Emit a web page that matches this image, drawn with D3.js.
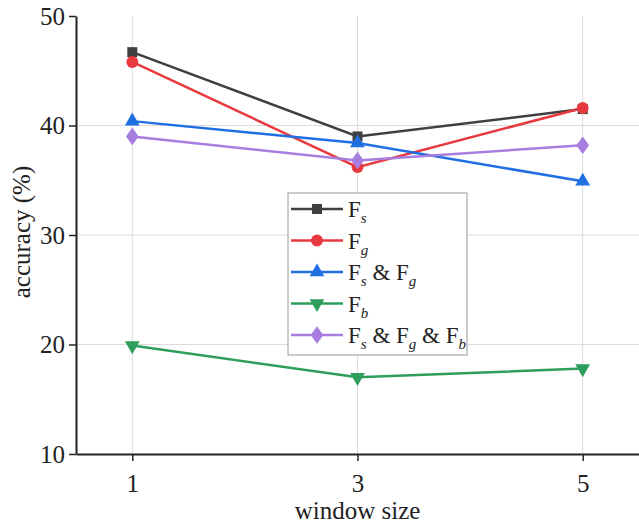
<!DOCTYPE html>
<html>
<head>
<meta charset="utf-8">
<script src="https://cdn.jsdelivr.net/npm/d3@7"></script>
<style>
  body { margin: 0; background: #fff; }
  svg, svg text { font-family: "Liberation Serif", "DejaVu Serif", serif; }
</style>
</head>
<body>
<svg id="chart" width="639" height="526"></svg>
<script>
// window sizes on the x axis
const windows = [1, 3, 5]
const yTicks = [10, 20, 30, 40, 50]

// accuracy (%) per feature set
const fs = [46.7, 39.0, 41.5]
const fg = [45.8, 36.2, 41.6]
const fsfg = [40.4, 38.4, 34.9]
const fb = [19.9, 17.0, 17.8]
const fsfgfb = [39.0, 36.8, 38.2]

const series = [
  { name: [["F", ""], ["s", "sub"]], values: fs, color: "#404040", marker: "square" },
  { name: [["F", ""], ["g", "sub"]], values: fg, color: "#e8393e", marker: "circle" },
  { name: [["F", ""], ["s", "sub"], [" & F", ""], ["g", "sub"]], values: fsfg, color: "#1f6fe3", marker: "triangle" },
  { name: [["F", ""], ["b", "sub"]], values: fb, color: "#2f9e5c", marker: "triangleDown" },
  { name: [["F", ""], ["s", "sub"], [" & F", ""], ["g", "sub"], [" & F", ""], ["b", "sub"]], values: fsfgfb, color: "#a77ee0", marker: "diamond" }
]

const svg = d3.select("#chart")
const plotLeft = 76, plotRight = 639, plotTop = 16, plotBottom = 454

const x = d3.scaleLinear().domain([0.5, 5.5]).range([plotLeft, plotRight])
const y = d3.scaleLinear().domain([10, 50]).range([plotBottom, plotTop])

// grid lines
svg.append("g").selectAll("line").data(windows).join("line")
  .attr("x1", d => x(d)).attr("x2", d => x(d))
  .attr("y1", plotTop).attr("y2", plotBottom)
  .attr("stroke", "#dcdcdc").attr("stroke-width", 1)
svg.append("g").selectAll("line").data(yTicks.slice(1, -1)).join("line")
  .attr("x1", plotLeft).attr("x2", plotRight)
  .attr("y1", d => y(d)).attr("y2", d => y(d))
  .attr("stroke", "#dcdcdc").attr("stroke-width", 1)

// axes
const xAxis = svg.append("g")
  .attr("transform", `translate(0, ${plotBottom})`)
  .call(d3.axisBottom(x).tickValues(windows).tickFormat(d3.format("d"))
    .tickSize(7).tickPadding(13).tickSizeOuter(0))
const yAxis = svg.append("g")
  .attr("transform", `translate(${plotLeft}, 0)`)
  .call(d3.axisLeft(y).tickValues(yTicks).tickFormat(d3.format("d"))
    .tickSize(7).tickPadding(4).tickSizeOuter(0))
for (const ax of [xAxis, yAxis]) {
  ax.attr("font-family", null).attr("font-size", 25)
  ax.select(".domain").attr("stroke", "#222").attr("stroke-width", 2)
  ax.selectAll(".tick line").attr("stroke", "#222").attr("stroke-width", 1.5)
  ax.selectAll(".tick text").attr("fill", "#222")
    .style("font-family", "'Liberation Serif', 'DejaVu Serif', serif")
}

svg.append("text")
  .attr("transform", `translate(30, ${(plotTop + plotBottom) / 2 - 3}) rotate(-90)`)
  .attr("text-anchor", "middle")
  .attr("font-size", 25).attr("fill", "#222")
  .text("accuracy (%)")

svg.append("text")
  .attr("x", x(3)).attr("y", 519)
  .attr("text-anchor", "middle")
  .attr("font-size", 25).attr("fill", "#222")
  .text("window size")

const symbols = {
  square: d3.symbolSquare,
  circle: d3.symbolCircle,
  triangle: d3.symbolTriangle,
  triangleDown: d3.symbolTriangle,
  diamond: d3.symbolDiamond
}
function markerPath(m) {
  const size = m === "square" ? 100 : m === "circle" ? 110 : m === "diamond" ? 90 : 95
  return d3.symbol().type(symbols[m]).size(size)()
}
function markerTransform(m, px, py) {
  if (m === "triangleDown") return `translate(${px}, ${py}) rotate(180)`
  if (m === "diamond") return `translate(${px}, ${py}) scale(1.25, 1)`
  return `translate(${px}, ${py})`
}

const line = d3.line().x((d, i) => x(windows[i])).y(d => y(d))

series.forEach(s => {
  svg.append("path")
    .datum(s.values)
    .attr("d", line)
    .attr("fill", "none")
    .attr("stroke", s.color)
    .attr("stroke-width", 2.5)
  svg.append("g").selectAll("path").data(s.values).join("path")
    .attr("d", markerPath(s.marker))
    .attr("transform", (d, i) => markerTransform(s.marker, x(windows[i]), y(d)))
    .attr("fill", s.color)
})

// legend
const lg = svg.append("g").attr("transform", "translate(288, 193)")
lg.append("rect")
  .attr("width", 179).attr("height", 162)
  .attr("fill", "#fff").attr("stroke", "#999").attr("stroke-width", 1)

series.forEach((s, i) => {
  const ly = 16 + i * 31.5
  lg.append("line")
    .attr("x1", 3).attr("x2", 55).attr("y1", ly).attr("y2", ly)
    .attr("stroke", s.color).attr("stroke-width", 2.5)
  lg.append("path")
    .attr("d", markerPath(s.marker))
    .attr("transform", markerTransform(s.marker, 29, ly))
    .attr("fill", s.color)
  const t = lg.append("text")
    .attr("x", 60).attr("y", ly + 8)
    .attr("font-size", 23).attr("fill", "#222")
  s.name.forEach(([txt, kind]) => {
    const ts = t.append("tspan").text(txt)
    if (kind === "sub") {
      ts.attr("font-style", "italic").attr("font-size", 15).attr("dy", 6)
    } else {
      ts.attr("dy", t.selectAll("tspan").size() > 1 ? -6 : 0)
    }
  })
})
</script>
</body>
</html>
